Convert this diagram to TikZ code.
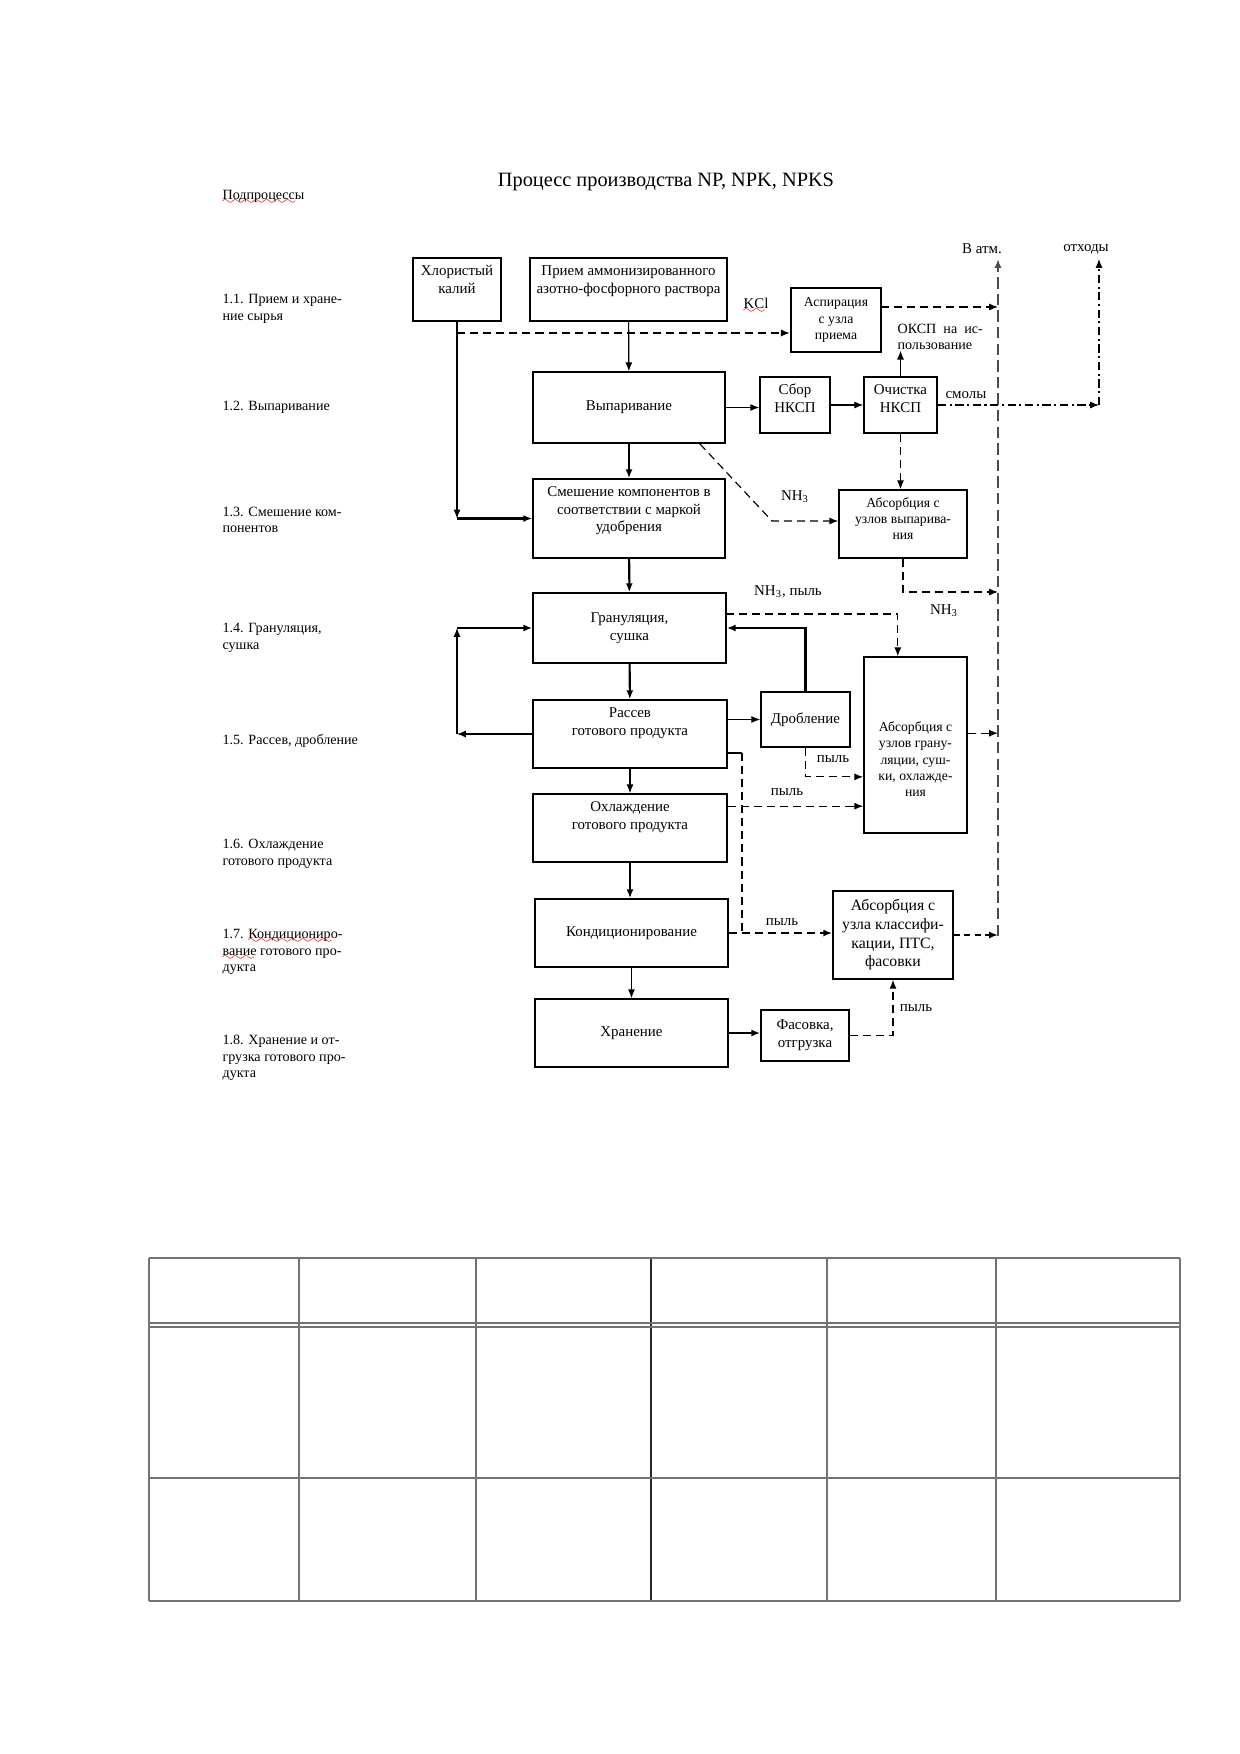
\documentclass[tikz,border=0pt]{standalone}
\usepackage{fontspec}
\setmainfont{Liberation Serif}
\usetikzlibrary{arrows.meta}
\newdimen\pxu
\pxu=0.1694mm
\font\wavefont=lasy6
\newcommand{\titlefont}{\fontsize{9.8}{11.8}\selectfont}
\newcommand{\boxfont}{\fontsize{7.2}{8.6}\selectfont}
\newcommand{\smallboxfont}{\fontsize{6.6}{7.8}\selectfont}
\newcommand{\stagefont}{\fontsize{6.8}{8}\selectfont}
\newcommand{\flowfont}{\fontsize{7.2}{8.6}\selectfont}
\newcommand{\topbox}[4][8.3pt]{\parbox[c][#3\pxu][t]{#2\pxu}{\centering\rule{0pt}{#1}#4}}
\newcommand{\midbox}[3]{\parbox[c][#2\pxu][c]{#1\pxu}{\centering #3}}
\newcommand{\spellwave}[1]{\setbox0\hbox{#1}\leavevmode\rlap{\textcolor{red}{\lower2.4pt\hbox to\wd0{\leaders\hbox{\wavefont\char58}\hfil}}}\box0\relax}
\tikzset{
	proc/.style={draw, line width=0.75pt, inner sep=0pt, font=\boxfont},
	stage/.style={anchor=west, align=left, inner sep=0pt, font=\stagefont},
	flowlabel/.style={inner sep=0pt, font=\flowfont},
	heavy/.style={line width=1pt},
	gasline/.style={dash pattern=on 3.9pt off 2.4pt},
	wasteline/.style={dash pattern=on 4pt off 1.7pt on 1pt off 1.7pt},
	ventline/.style={line width=1.4pt, black!70, dash pattern=on 5.5pt off 2.5pt},
	ventshort/.style={line width=1pt, dash pattern=on 3pt off 2pt},
	tabline/.style={line width=0.8pt, black!55}
}

\begin{document}
\begin{tikzpicture}[x=0.1694mm, y=-0.1694mm, line width=0.55pt, >={Latex[length=4.3pt,width=3.4pt]}]
\useasboundingbox (0,0) rectangle (1240,1754);

\node[font=\titlefont] (title) at (666,182) {Процесс производства NP, NPK, NPKS};
\node[stage] (subproc) at (222,197) {\spellwave{Подпроцессы}};

\foreach \n/\y/\t in {s11/309/{1.1. Прием и хране-\\ние сырья}, s12/407/{1.2. Выпаривание},
	s13/520/{1.3. Смешение ком-\\понентов}, s14/638/{1.4. Грануляция,\\сушка},
	s15/741/{1.5. Рассев, дробление}, s16/854/{1.6. Охлаждение\\готового продукта},
	s17/952/{1.7. \spellwave{Кондициониро}-\\\spellwave{вание} готового про-\\дукта},
	s18/1058/{1.8. Хранение и от-\\грузка готового про-\\дукта}}
	\node[stage] (\n) at (222,\y) {\t};

\node[proc] (hlor) at (457,289.5) {\topbox{88}{63}{Хлористый\\калий}};
\node[proc] (priem) at (628.5,289.5) {\topbox{197}{63}{Прием аммонизированного\\азотно-фосфорного раствора}};
\node[proc, line width=1.1pt, font=\smallboxfont] (aspir) at (836,320) {\midbox{90}{64}{Аспирация\\с узла\\приема}};
\node[proc] (vyp) at (629,407.5) {\midbox{192}{71}{Выпаривание}};
\node[proc] (sbor) at (795,405) {\topbox{70}{56}{Сбор\\НКСП}};
\node[proc] (ochist) at (900.5,405) {\topbox{73}{56}{Очистка\\НКСП}};
\node[proc] (smesh) at (629,518.5) {\topbox{192}{79}{Смешение компонентов в\\соответствии с маркой\\удобрения}};
\node[proc, font=\smallboxfont] (absvyp) at (903,524) {\topbox{128}{68}{Абсорбция с\\узлов выпарива-\\ния}};
\node[proc] (gran) at (629.5,628) {\midbox{193}{70}{Грануляция,\\сушка}};
\node[proc] (rassev) at (630,734) {\topbox{194}{68}{Рассев\\готового продукта}};
\node[proc] (drob) at (805.5,719.5) {\midbox{89}{55}{Дробление}};
\node[proc, font=\smallboxfont] (absgran) at (915.5,745) {\topbox[36pt]{103}{176}{Абсорбция с\\узлов грану-\\ляции, суш-\\ки, охлажде-\\ния}};
\node[proc] (ohlazh) at (630,828) {\topbox{194}{68}{Охлаждение\\готового продукта}};
\node[proc] (kond) at (631.5,933) {\midbox{193}{68}{Кондиционирование}};
\node[proc, font=\fontsize{7.6}{9}\selectfont] (abskl) at (893,935) {\midbox{120}{88}{Абсорбция с\\узла классифи-\\кации, ПТС,\\фасовки}};
\node[proc] (hran) at (631.5,1033) {\midbox{193}{68}{Хранение}};
\node[proc] (fas) at (805,1035.5) {\midbox{88}{51}{Фасовка,\\отгрузка}};

\node[flowlabel] (lblkcl) at (756,306) {\spellwave{KCl}};
\node[flowlabel] (lblatm) at (982,249) {В атм.};
\node[flowlabel] (lblotx) at (1086,249) {отходы};
\node[stage] (oksp) at (897,337) {ОКСП\ \ на\ \ ис-\\пользование};
\node[flowlabel] (lblsmol) at (966,395) {смолы};
\node[flowlabel] (lblnh1) at (795,497) {NH\textsubscript{3}};
\node[flowlabel] (lblnh2) at (788,592) {NH\textsubscript{3}, пыль};
\node[flowlabel] (lblnh3) at (944,611) {NH\textsubscript{3}};
\node[flowlabel] (lblp1) at (833,759) {пыль};
\node[flowlabel] (lblp2) at (787,792) {пыль};
\node[flowlabel] (lblp3) at (782,922) {пыль};
\node[flowlabel] (lblp4) at (916,1008) {пыль};

\coordinate (atmtop) at (998,259);
\coordinate (atmbot) at (998,936);
\coordinate (otxtop) at (1099,259);
\coordinate (kcl) at (457,333);
\coordinate (aspout) at (881,307);
\coordinate (nhbend) at (772,521);
\coordinate (atm1) at (998,592);
\coordinate (granout) at (726,614);
\coordinate (drobdust) at ([yshift=-5.4mm]absgran.west);
\coordinate (ohout) at ([yshift=3.7mm]ohlazh.east);
\coordinate (agout) at ([yshift=2mm]absgran.east);
\coordinate (rsout) at ([yshift=-3.2mm]rassev.east);
\coordinate (rsbend) at ([xshift=2.4mm]rsout);

\draw[ventline, ->] (atmbot) -- (atmtop);

\draw[->] (hlor.south) -- (hlor.south |- smesh.west);
\draw[->, heavy] (hlor.south |- smesh.west) -- (smesh.west);
\draw[gasline, ->] (kcl) -- (kcl -| aspir.west);
\draw[gasline, ->] (aspout) -- (aspout -| atmtop);

\draw[->] (priem) -- (vyp);
\draw[->] (vyp.east) -- (vyp.east -| sbor.west);
\draw[->] (sbor) -- (ochist);
\draw[->] (ochist.north) -- (ochist.north |- oksp.south);
\draw[wasteline, ->] (ochist.east) -- (ochist.east -| otxtop);
\draw[wasteline, ->] (ochist.east -| otxtop) -- (otxtop);

\draw[gasline, ->] ([xshift=-4.4mm]vyp.south east) -- (nhbend) -- (nhbend -| absvyp.west);
\draw[gasline, ->] (ochist.south) -- (ochist.south |- absvyp.north);
\draw[gasline, ->] (absvyp.south) |- (atm1);

\draw[->, heavy] (vyp) -- (smesh);
\draw[->, heavy] (smesh) -- (gran);
\draw[->, heavy] (gran) -- (rassev);
\draw[->] (rassev) -- (ohlazh);
\draw[->, heavy] (ohlazh.south) -- (ohlazh.south |- kond.north);
\draw[->] (kond) -- (hran);

\draw[->] (rassev.west) -- (rassev.west -| hlor.south);
\draw[->] (rassev.west -| hlor.south) -- (gran.west -| hlor.south);
\draw[->, heavy] (gran.west -| hlor.south) -- (gran.west);

\draw[gasline, ->] (granout) -| ([xshift=-3mm]absgran.north);
\draw[->] (rassev.east |- drob.west) -- (drob.west);
\draw[->, heavy] (drob.north) |- (gran.east);
\draw[gasline, ->] (drob.south) |- (drobdust);
\draw[gasline, ->] (ohout) -- (ohout -| absgran.west);
\draw[gasline, ->] (agout) -- (agout -| atmtop);

\draw[heavy] (rsout) -- (rsbend);
\draw[heavy, gasline] (rsbend) -- (rsbend |- kond.east);
\draw[heavy, gasline, ->] (kond.east) -- (kond.east -| abskl.west);
\draw[ventshort, ->] (abskl.east) -- (abskl.east -| atmtop);

\draw[->, heavy] (hran.east) -- (hran.east -| fas.west);
\draw[gasline, ->] (fas.east) -| (abskl.south);

\foreach \x in {149,299,476,827,996,1180}
	\draw[tabline] (\x,1258) -- (\x,1601);
\draw[tabline, black!85] (651,1258) -- (651,1601);
\foreach \y in {1258,1323,1327,1478,1601}
	\draw[tabline] (149,\y) -- (1180,\y);
\end{tikzpicture}
\end{document}
